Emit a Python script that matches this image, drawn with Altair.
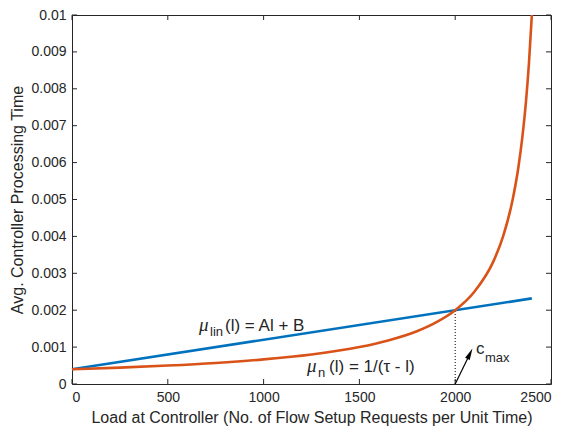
import altair as alt
import pandas as pd

# ---- data ----
lin_x = [0, 2400]
lin_y = [0.0004, 0.00232]

n_x = [0, 250, 500, 750, 1000, 1250, 1500, 1650, 1800, 1900, 2000, 2100, 2200,
       2250, 2300, 2330, 2350, 2370, 2385, 2400]
n_y = [0.0004, 0.000444, 0.0005, 0.000571, 0.000667, 0.0008, 0.001, 0.00118,
       0.00143, 0.00167, 0.002, 0.0025, 0.00333, 0.004, 0.005, 0.00588, 0.00667,
       0.00769, 0.0087, 0.01]

x_ticks = [0, 500, 1000, 1500, 2000, 2500]
y_ticks = [0, 0.001, 0.002, 0.003, 0.004, 0.005, 0.006, 0.007, 0.008, 0.009, 0.01]

cmax_x = [2000, 2000]
cmax_y = [0, 0.002]
arrow_start = [2000, 0]
arrow_end = [2077, 0.00082]

lbl_lin_pos = [663, 0.00143]
lbl_n_pos = [1227, 0.00032]
lbl_c_pos = [2108, 0.00082]

W, H = 479, 369
FONT = "Liberation Sans"
TXT = "#262626"

xscale = alt.Scale(domain=[0, 2500], nice=False, zero=False)
yscale = alt.Scale(domain=[0, 0.01], nice=False, zero=False)

X = alt.X("x:Q", scale=xscale,
          axis=alt.Axis(title="Load at Controller (No. of Flow Setup Requests per Unit Time)",
                        values=x_ticks, format="d"))
Y = alt.Y("y:Q", scale=yscale,
          axis=alt.Axis(title="Avg. Controller Processing Time",
                        values=y_ticks, format="~g"))

df_lin = pd.DataFrame({"x": lin_x, "y": lin_y})
df_n = pd.DataFrame({"x": n_x, "y": n_y})
df_xt = pd.DataFrame({"x": x_ticks})
df_yt = pd.DataFrame({"y": y_ticks})
df_dot = pd.DataFrame({"x": cmax_x, "y": cmax_y})
df_arrow = pd.DataFrame({"x": [arrow_start[0], arrow_end[0]], "y": [arrow_start[1], arrow_end[1]]})
df_head = pd.DataFrame({"x": [arrow_end[0]], "y": [arrow_end[1]]})

blue = alt.Chart(df_lin).mark_line(color="#0072BD", strokeWidth=2.6).encode(x=X, y=Y)
orange = alt.Chart(df_n).mark_line(color="#D95319", strokeWidth=2.6, interpolate="monotone").encode(x=X, y=Y)

dotted = alt.Chart(df_dot).mark_line(color="black", strokeWidth=1, strokeDash=[1, 2]).encode(x=X, y=Y)
arrow_line = alt.Chart(df_arrow).mark_line(color="black", strokeWidth=1.2).encode(x=X, y=Y)
arrow_head = alt.Chart(df_head).mark_point(
    shape="M0,-1L0.45,1L-0.45,1Z", filled=True, color="black", opacity=1,
    size=130, angle=26).encode(x=X, y=Y)

tick_b = alt.Chart(df_xt).mark_rule(color=TXT, strokeWidth=1).encode(
    x=X, y=alt.value(H), y2=alt.value(H - 5))
tick_t = alt.Chart(df_xt).mark_rule(color=TXT, strokeWidth=1).encode(
    x=X, y=alt.value(0), y2=alt.value(5))
tick_l = alt.Chart(df_yt).mark_rule(color=TXT, strokeWidth=1).encode(
    y=Y, x=alt.value(0), x2=alt.value(5))
tick_r = alt.Chart(df_yt).mark_rule(color=TXT, strokeWidth=1).encode(
    y=Y, x=alt.value(W), x2=alt.value(W - 5))


def txt(pos, text, dx=0, dy=0, size=17, italic=False, serif=False):
    d = pd.DataFrame({"x": [pos[0]], "y": [pos[1]], "t": [text]})
    return alt.Chart(d).mark_text(
        align="left", baseline="alphabetic", dx=dx, dy=dy, fontSize=size,
        font="Liberation Serif" if serif else FONT,
        fontStyle="italic" if italic else "normal", color=TXT
    ).encode(x=X, y=Y, text="t:N")


texts = [
    txt(lbl_lin_pos, "μ", 0, 0, 19, True, True),
    txt(lbl_lin_pos, "lin", 11, 5, 13),
    txt(lbl_lin_pos, "(l) = Al + B", 26, 0, 17),
    txt(lbl_n_pos, "μ", 0, 0, 19, True, True),
    txt(lbl_n_pos, "n", 11, 5, 13),
    txt(lbl_n_pos, "(l) = 1/(τ - l)", 22, 0, 17),
    txt(lbl_c_pos, "c", 0, 0, 17),
    txt(lbl_c_pos, "max", 9, 8, 13),
]

chart = alt.layer(
    tick_b, tick_t, tick_l, tick_r, dotted, blue, orange, arrow_line, arrow_head, *texts
).properties(
    width=W, height=H,
    autosize=alt.AutoSizeParams(type="none"),
    padding={"left": 64, "top": 7, "right": 8, "bottom": 44},
).configure_view(
    stroke=TXT, strokeWidth=1
).configure_axis(
    grid=False, ticks=False, domain=False,
    labelFont=FONT, labelFontSize=14, labelColor=TXT,
    titleFont=FONT, titleFontSize=16, titleColor=TXT, titleFontWeight="normal",
    labelPadding=6,
).configure_axisX(titlePadding=5).configure_axisY(titlePadding=5)

chart.save("out.html", embed_options={"renderer": "svg", "actions": False})
